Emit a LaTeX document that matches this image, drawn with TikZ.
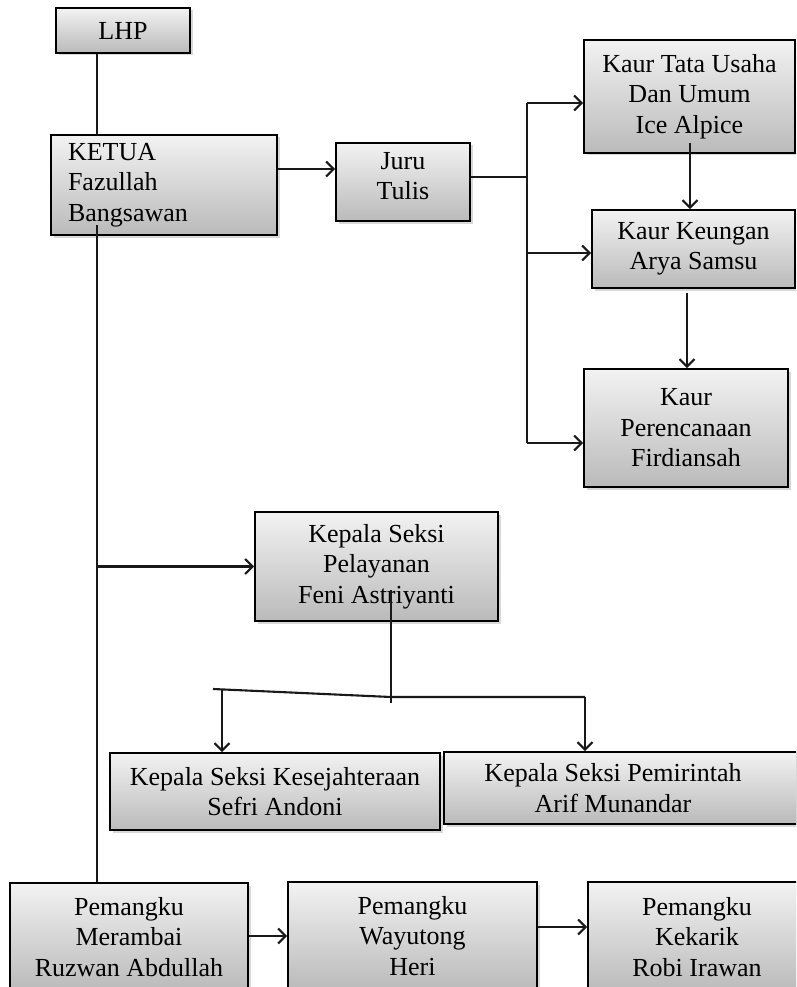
\documentclass[tikz,border=0pt]{standalone}
\usepackage{fontspec}
\setmainfont{Liberation Serif}
\usetikzlibrary{arrows.meta,shadows}
\begin{document}
\begin{tikzpicture}[x=1pt,y=-1pt,
 box/.style={draw=black, line width=1.8pt, top color=black!5, bottom color=black!27,
   drop shadow={shadow xshift=2.5pt, shadow yshift=-2.5pt, opacity=0.3},
   inner sep=0pt, align=center, font=\fontsize{26}{30.5}\selectfont},
 txt/.style={align=center, inner sep=0pt, font=\fontsize{26}{30.5}\selectfont},
 conn/.style={line width=2.1pt, draw=black!90},
 arr/.style={conn, -{Straight Barb[length=7.5pt,width=15pt,line width=2.1pt]}}]
\clip (0,0) rectangle (796,987);
\fill[white] (0,0) rectangle (796,987);

% boxes
\node[box, minimum width=134pt, minimum height=45pt] (lhp) at (123,30.5) {LHP};
\node[box, align=left, text width=192pt, inner xsep=17pt, minimum height=100pt] (ketua) at (164,185) {KETUA\\Fazullah\\Bangsawan};
\node[box, minimum width=134pt, minimum height=78pt] (juru) at (403,182) {};
\node[txt] (jurut) at (403,176) {Juru\\Tulis};
\node[box, minimum width=211pt, minimum height=113pt] (tata) at (689.5,96.5) {Kaur Tata Usaha\\Dan Umum\\Ice Alpice};
\node[box, minimum width=203pt, minimum height=78pt] (keu) at (693.5,249) {Kaur Keungan\\Arya Samsu};
\node[box, minimum width=204pt, minimum height=118pt] (per) at (686,428) {Kaur\\Perencanaan\\Firdiansah};
\node[box, minimum width=243pt, minimum height=109pt] (pel) at (376.5,566.5) {Kepala Seksi\\Pelayanan\\Feni Astriyanti};
\node[box, minimum width=330pt, minimum height=77pt] (kes) at (275,791.5) {Kepala Seksi Kesejahteraan\\Sefri Andoni};
\node[box, minimum width=353pt, minimum height=72pt] (pem) at (620.5,788) {};
\node[txt] (pemt) at (613,788) {Kepala Seksi Pemirintah\\Arif Munandar};
\node[box, minimum width=238pt, minimum height=108pt] (mer) at (129,937) {Pemangku\\Merambai\\Ruzwan Abdullah};
\node[box, minimum width=249pt, minimum height=108pt] (way) at (412.5,936) {Pemangku\\Wayutong\\Heri};
\node[box, minimum width=218pt, minimum height=110pt] (kek) at (697,937) {Pemangku\\Kekarik\\Robi Irawan};

% spine
\coordinate (sp) at (97,0);
\coordinate (sp2) at (97,225);
\draw[conn] (lhp.south -| sp) -- (ketua.north -| sp);
\draw[conn] (sp2) -- (mer.north -| sp);
\draw[arr] (pel.west -| sp) -- (pel.west);

% ketua -> juru -> kaur
\coordinate (k1) at (0,169);
\draw[arr] (ketua.east |- k1) -- (juru.west |- k1);
\coordinate (tr) at (527,177);
\draw[conn] (juru.east |- tr) -- (tr);
\coordinate (trtop) at (527,103);
\coordinate (trmid) at (527,253);
\coordinate (trbot) at (527,443);
\draw[conn] (trtop) -- (trbot);
\draw[arr] (trtop) -- (tata.west |- trtop);
\draw[arr] (trmid) -- (keu.west |- trmid);
\draw[arr] (trbot) -- (per.west |- trbot);
\coordinate (v1) at (690,143);
\draw[arr] (v1) -- (keu.north -| v1);
\coordinate (v2) at (687,293);
\draw[arr] (v2) -- (per.north -| v2);

% pelayanan branch
\coordinate (bv) at (391,590);
\coordinate (bj) at (391,697);
\coordinate (bjb) at (391,703);
\coordinate (bl) at (213,689);
\coordinate (br) at (585,697);
\coordinate (al) at (222,689.4);
\draw[conn] (bv) -- (bjb);
\draw[conn] (bl) -- (bj) -- (br);
\draw[arr] (al) -- (kes.north -| al);
\draw[arr] (br) -- (pem.north -| br);

% bottom row
\coordinate (b1) at (0,936);
\draw[arr] (mer.east |- b1) -- (way.west |- b1);
\coordinate (b2) at (0,927);
\draw[arr] (way.east |- b2) -- (kek.west |- b2);
\end{tikzpicture}
\end{document}
